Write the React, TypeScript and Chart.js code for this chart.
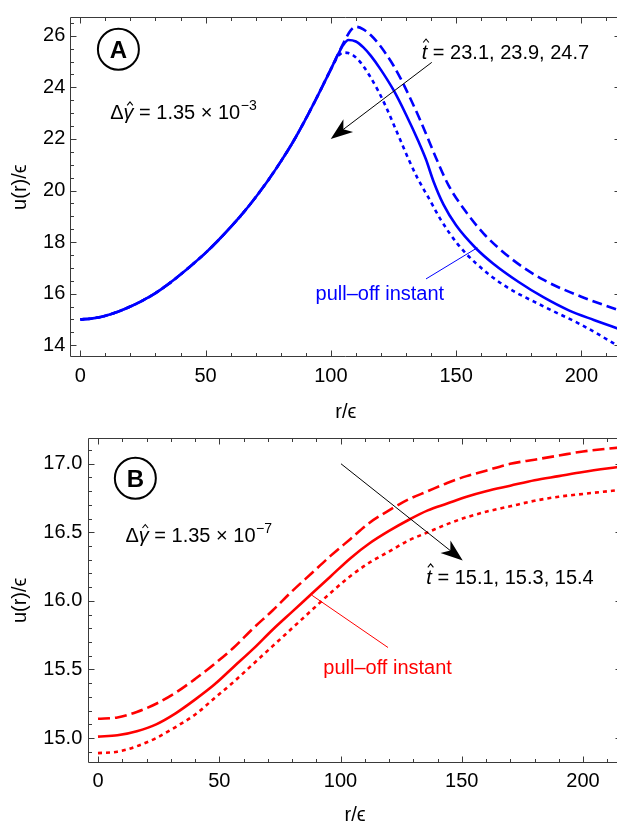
import React, { useEffect, useRef } from "react";
import { Chart, registerables } from "chart.js";

Chart.register(...registerables);

const FONT = '"Liberation Sans", Arial, Helvetica, sans-serif';
Chart.defaults.font.family = FONT;

// ================= Panel A  (Δγ̂ = 1.35 × 10^-3) =================
// rising branch shared by all three curves
const rA_rise = [0, 5, 10, 15, 20, 25, 30, 35, 40, 45, 50, 55, 60, 65, 70, 75, 80, 85, 90, 95, 100];
const uA_rise = [15.0, 15.04, 15.14, 15.3, 15.5, 15.74, 16.02, 16.36, 16.74, 17.15, 17.58, 18.06, 18.58, 19.13, 19.74, 20.4, 21.12, 21.9, 22.78, 23.72, 24.7];
// t̂ = 23.1 (dashed)
const rA_dashedTail = [103, 106, 108, 110, 113, 116, 119, 122, 125, 128, 131.5, 135, 138, 142.5, 147, 153.5, 161, 172, 185, 200, 216];
const uA_dashedTail = [25.32, 25.9, 26.22, 26.35, 26.25, 26.02, 25.7, 25.3, 24.85, 24.32, 23.62, 22.88, 22.2, 21.15, 20.2, 19.23, 18.33, 17.36, 16.53, 15.88, 15.32];
// t̂ = 23.9 (solid, pull-off instant)
const rA_solidTail = [103, 105, 107, 110, 113, 116, 120, 125, 130, 135, 138, 141, 145, 150, 158, 165, 175, 185, 195, 205, 216];
const uA_solidTail = [25.3, 25.65, 25.84, 25.78, 25.55, 25.22, 24.68, 23.9, 22.95, 21.9, 21.2, 20.35, 19.45, 18.65, 17.75, 17.15, 16.45, 15.85, 15.35, 14.98, 14.6];
// t̂ = 24.7 (dotted)
const rA_dottedTail = [103, 105, 107, 109.5, 112, 115.5, 119, 122, 125, 128, 131, 134.5, 139, 144, 150.5, 158, 169, 185, 200, 216];
const uA_dottedTail = [25.22, 25.35, 25.33, 25.2, 24.95, 24.45, 23.85, 23.25, 22.58, 21.9, 21.22, 20.5, 19.72, 18.85, 17.94, 17.17, 16.33, 15.5, 14.79, 13.9];

const xTicks = [0, 50, 100, 150, 200];
const yTicksA = [14, 16, 18, 20, 22, 24, 26];
const tValuesA = "23.1, 23.9, 24.7";
const expA = "\u22123";

// ================= Panel B  (Δγ̂ = 1.35 × 10^-7) =================
const rB = [0, 8, 16, 24, 32, 40, 48, 56, 64, 72, 80, 88, 96, 104, 112, 120, 128, 136, 144, 152, 160, 170, 180, 190, 200, 216];
// t̂ = 15.1 (dashed)
const uB_dashed = [15.14, 15.15, 15.19, 15.25, 15.33, 15.43, 15.54, 15.66, 15.8, 15.93, 16.07, 16.2, 16.33, 16.45, 16.57, 16.66, 16.74, 16.8, 16.86, 16.91, 16.95, 17.0, 17.03, 17.06, 17.09, 17.12];
// t̂ = 15.3 (solid, pull-off instant)
const uB_solid = [15.01, 15.02, 15.05, 15.1, 15.18, 15.28, 15.39, 15.52, 15.65, 15.79, 15.92, 16.05, 16.18, 16.31, 16.42, 16.51, 16.59, 16.66, 16.71, 16.76, 16.8, 16.84, 16.88, 16.91, 16.94, 16.98];
// t̂ = 15.4 (dotted)
const uB_dotted = [14.89, 14.9, 14.94, 15.0, 15.08, 15.17, 15.29, 15.41, 15.54, 15.67, 15.8, 15.93, 16.06, 16.18, 16.28, 16.36, 16.44, 16.5, 16.56, 16.61, 16.65, 16.69, 16.73, 16.76, 16.78, 16.81];

const yTicksB = [15.0, 15.5, 16.0, 16.5, 17.0];
const tValuesB = "15.1, 15.3, 15.4";
const expB = "\u22127";

const BLUE = "#0000ff";
const RED = "#ff0000";

function pts(rs: number[], us: number[]) {
  return rs.map((r, i) => ({ x: r, y: us[i] }));
}

function ds(data: any[], color: string, dash: number[]) {
  return {
    data,
    borderColor: color,
    backgroundColor: color,
    borderWidth: 2.6,
    borderDash: dash,
    borderCapStyle: "butt",
    pointRadius: 0,
    fill: false,
    cubicInterpolationMode: "monotone",
  };
}

function frameTicksPlugin(xMajor: number[], yMajor: number[], xMinor: number, yMinor: number) {
  return {
    id: "frameTicks",
    afterDraw(chart: any) {
      const { ctx, chartArea: a } = chart;
      const xs = chart.scales.x;
      const ys = chart.scales.y;
      ctx.save();
      ctx.strokeStyle = "#3a3a3a";
      ctx.lineWidth = 1;
      const L = Math.round(a.left) + 0.5;
      const T = Math.round(a.top) + 0.5;
      const B = Math.round(a.bottom) - 0.5;
      const R = Math.round(a.right) - 0.5;
      ctx.beginPath();
      ctx.moveTo(R, T);
      ctx.lineTo(L, T);
      ctx.lineTo(L, B);
      ctx.lineTo(R, B);
      ctx.lineTo(R, T);
      ctx.stroke();
      const isMajor = (v: number, arr: number[]) => arr.some((m) => Math.abs(m - v) < 1e-6);
      ctx.beginPath();
      for (let k = Math.ceil(xs.min / xMinor - 1e-9); k * xMinor <= xs.max + 1e-9; k++) {
        const v = k * xMinor;
        const px = Math.round(xs.getPixelForValue(v)) + 0.5;
        const len = isMajor(v, xMajor) ? 6 : 3.5;
        ctx.moveTo(px, B);
        ctx.lineTo(px, B - len);
        ctx.moveTo(px, T);
        ctx.lineTo(px, T + len);
      }
      for (let k = Math.ceil(ys.min / yMinor - 1e-9); k * yMinor <= ys.max + 1e-9; k++) {
        const v = k * yMinor;
        const py = Math.round(ys.getPixelForValue(v)) + 0.5;
        const len = isMajor(v, yMajor) ? 6 : 3.5;
        ctx.moveTo(L, py);
        ctx.lineTo(L + len, py);
        ctx.moveTo(R, py);
        ctx.lineTo(R - len, py);
      }
      ctx.stroke();
      ctx.restore();
    },
  };
}

function drawArrow(ctx: CanvasRenderingContext2D, x1: number, y1: number, x2: number, y2: number) {
  const dx = x2 - x1, dy = y2 - y1;
  const len = Math.hypot(dx, dy);
  const ux = dx / len, uy = dy / len;
  const nx = -uy, ny = ux;
  const Lh = 22, W = 8;
  const bx = x2 - ux * Lh, by = y2 - uy * Lh;
  ctx.strokeStyle = "#000";
  ctx.fillStyle = "#000";
  ctx.lineWidth = 1;
  ctx.beginPath();
  ctx.moveTo(x1, y1);
  ctx.lineTo(x2 - ux * Lh * 0.6, y2 - uy * Lh * 0.6);
  ctx.stroke();
  ctx.beginPath();
  ctx.moveTo(x2, y2);
  ctx.lineTo(bx + nx * W, by + ny * W);
  ctx.lineTo(x2 - ux * Lh * 0.72, y2 - uy * Lh * 0.72);
  ctx.lineTo(bx - nx * W, by - ny * W);
  ctx.closePath();
  ctx.fill();
}

function hatItalic(ctx: CanvasRenderingContext2D, ch: string, x: number, base: number, hatTop: number) {
  ctx.font = `italic 20px ${FONT}`;
  const w = ctx.measureText(ch).width;
  ctx.fillText(ch, x, base);
  const cx = x + w / 2 + 1.5;
  ctx.beginPath();
  ctx.lineWidth = 1.1;
  ctx.moveTo(cx - 2.8, base - hatTop + 3.5);
  ctx.lineTo(cx, base - hatTop);
  ctx.lineTo(cx + 2.8, base - hatTop + 3.5);
  ctx.stroke();
  return w;
}

function drawTLabel(ctx: CanvasRenderingContext2D, x: number, base: number, vals: string) {
  ctx.fillStyle = "#000";
  ctx.strokeStyle = "#000";
  let cx = x;
  cx += hatItalic(ctx, "t", cx, base, 20);
  ctx.font = `20px ${FONT}`;
  ctx.fillText(" = " + vals, cx, base);
}

function drawGammaLabel(ctx: CanvasRenderingContext2D, x: number, base: number, exp: string) {
  ctx.fillStyle = "#000";
  ctx.strokeStyle = "#000";
  let cx = x;
  ctx.font = `20px ${FONT}`;
  ctx.fillText("\u0394", cx, base);
  cx += ctx.measureText("\u0394").width;
  cx += hatItalic(ctx, "\u03b3", cx, base, 17);
  ctx.font = `20px ${FONT}`;
  const main = " = 1.35 \u00d7 10";
  ctx.fillText(main, cx, base);
  cx += ctx.measureText(main).width;
  ctx.font = `14px ${FONT}`;
  ctx.fillText(exp, cx + 0.5, base - 9);
}

function drawCircleLetter(ctx: CanvasRenderingContext2D, cx: number, cy: number, letter: string) {
  ctx.strokeStyle = "#000";
  ctx.lineWidth = 2;
  ctx.beginPath();
  ctx.arc(cx, cy, 20.5, 0, Math.PI * 2);
  ctx.stroke();
  ctx.fillStyle = "#000";
  ctx.font = `bold 24px ${FONT}`;
  ctx.textAlign = "center";
  ctx.fillText(letter, cx, cy + 8.5);
  ctx.textAlign = "left";
}

type Ann = {
  letter: string;
  circle: [number, number];
  arrowFrom: [number, number];
  arrowTo: [number, number];
  tLabel: [number, number];
  tValues: string;
  gLabel: [number, number];
  exp: string;
  pullLabel: [number, number];
  leaderFrom: [number, number];
  leaderTo: [number, number];
  color: string;
};

function annotationPlugin(ann: Ann) {
  return {
    id: "annotations",
    afterDraw(chart: any) {
      const { ctx } = chart;
      const X = (v: number) => chart.scales.x.getPixelForValue(v);
      const Y = (v: number) => chart.scales.y.getPixelForValue(v);
      ctx.save();
      ctx.textBaseline = "alphabetic";
      drawCircleLetter(ctx, X(ann.circle[0]), Y(ann.circle[1]), ann.letter);
      drawArrow(ctx, X(ann.arrowFrom[0]), Y(ann.arrowFrom[1]), X(ann.arrowTo[0]), Y(ann.arrowTo[1]));
      drawTLabel(ctx, X(ann.tLabel[0]), Y(ann.tLabel[1]), ann.tValues);
      drawGammaLabel(ctx, X(ann.gLabel[0]), Y(ann.gLabel[1]), ann.exp);
      ctx.strokeStyle = ann.color;
      ctx.lineWidth = 1;
      ctx.beginPath();
      ctx.moveTo(X(ann.leaderFrom[0]), Y(ann.leaderFrom[1]));
      ctx.lineTo(X(ann.leaderTo[0]), Y(ann.leaderTo[1]));
      ctx.stroke();
      ctx.fillStyle = ann.color;
      ctx.font = `20px ${FONT}`;
      ctx.fillText("pull\u2013off instant", X(ann.pullLabel[0]), Y(ann.pullLabel[1]));
      ctx.restore();
    },
  };
}

const tickFont = { family: FONT, size: 20 };

function buildConfig(opts: {
  datasets: any[];
  yMin: number;
  yMax: number;
  yTicks: number[];
  yFmt: (v: number) => string;
  yMinor: number;
  canvasH: number;
  areaTop: number;
  areaBottom: number;
  areaLeft: number;
  rightPad: number;
  yTickPad: number;
  xTitlePad: number;
  ann: Ann;
}) {
  return {
    type: "line",
    data: { datasets: opts.datasets },
    options: {
      animation: false,
      responsive: false,
      maintainAspectRatio: false,
      devicePixelRatio: 1,
      events: [],
      layout: { padding: { top: opts.areaTop, left: 0, right: opts.rightPad, bottom: 0 } },
      plugins: { legend: { display: false }, tooltip: { enabled: false } },
      elements: { point: { radius: 0 } },
      scales: {
        x: {
          type: "linear",
          min: -4,
          max: 216,
          afterBuildTicks: (s: any) => {
            s.ticks = xTicks.map((v) => ({ value: v }));
          },
          ticks: { font: tickFont, color: "#000", padding: 7, maxRotation: 0, autoSkip: false },
          grid: { display: false, drawTicks: false },
          border: { display: false },
          title: { display: true, text: "r/\u03f5", font: tickFont, color: "#000", padding: { top: 0, bottom: opts.xTitlePad } },
          afterFit: (s: any) => {
            s.height = opts.canvasH - opts.areaBottom;
          },
        },
        y: {
          type: "linear",
          min: opts.yMin,
          max: opts.yMax,
          afterBuildTicks: (s: any) => {
            s.ticks = opts.yTicks.map((v) => ({ value: v }));
          },
          ticks: { font: tickFont, color: "#000", padding: opts.yTickPad, callback: (v: any) => opts.yFmt(Number(v)), autoSkip: false },
          grid: { display: false, drawTicks: false },
          border: { display: false },
          title: { display: true, text: "u(r)/\u03f5", font: tickFont, color: "#000", padding: { top: 8, bottom: 0 } },
          afterFit: (s: any) => {
            s.width = opts.areaLeft;
          },
        },
      },
    },
    plugins: [frameTicksPlugin(xTicks, opts.yTicks, 10, opts.yMinor), annotationPlugin(opts.ann)],
  };
}

function configA() {
  return buildConfig({
    datasets: [
      ds(pts(rA_rise.concat(rA_dottedTail), uA_rise.concat(uA_dottedTail)), BLUE, [4, 4]),
      ds(pts(rA_rise.concat(rA_solidTail), uA_rise.concat(uA_solidTail)), BLUE, []),
      ds(pts(rA_rise.concat(rA_dashedTail), uA_rise.concat(uA_dashedTail)), BLUE, [10, 5]),
    ],
    yMin: 13.53,
    yMax: 26.73,
    yTicks: yTicksA,
    yFmt: (v) => String(v),
    yMinor: 0.5,
    canvasH: 430,
    areaTop: 14.3,
    areaBottom: 357.3,
    areaLeft: 70.3,
    rightPad: 18.6,
    yTickPad: 5,
    xTitlePad: 6,
    ann: {
      letter: "A",
      circle: [15.2, 25.48],
      arrowFrom: [140.3, 24.97],
      arrowTo: [99.96, 22.0],
      tLabel: [136.3, 25.1],
      tValues: tValuesA,
      gLabel: [11.9, 22.78],
      exp: expA,
      pullLabel: [93.9, 15.77],
      leaderFrom: [158.5, 17.78],
      leaderTo: [138, 16.57],
      color: BLUE,
    },
  });
}

function configB() {
  return buildConfig({
    datasets: [
      ds(pts(rB, uB_dotted), RED, [4, 4]),
      ds(pts(rB, uB_solid), RED, []),
      ds(pts(rB, uB_dashed), RED, [12, 5]),
    ],
    yMin: 14.82,
    yMax: 17.188,
    yTicks: yTicksB,
    yFmt: (v) => v.toFixed(1),
    yMinor: 0.1,
    canvasH: 410,
    areaTop: 11,
    areaBottom: 342.7,
    areaLeft: 88.3,
    rightPad: 18.2,
    yTickPad: 6,
    xTitlePad: 3,
    ann: {
      letter: "B",
      circle: [15.4, 16.895],
      arrowFrom: [100.2, 17.0],
      arrowTo: [150.4, 16.295],
      tLabel: [135.4, 16.124],
      tValues: tValuesB,
      gLabel: [11.3, 16.433],
      exp: expB,
      pullLabel: [92.9, 15.47],
      leaderFrom: [88.3, 16.04],
      leaderTo: [119.6, 15.66],
      color: RED,
    },
  });
}

function Panel({ build, top, height }: { build: () => any; top: number; height: number }) {
  const ref = useRef<HTMLCanvasElement | null>(null);
  useEffect(() => {
    const chart = new Chart(ref.current as HTMLCanvasElement, build());
    return () => chart.destroy();
  }, []);
  return (
    <canvas
      ref={ref}
      width={640}
      height={height}
      style={{ position: "absolute", left: 0, top, width: 640, height, display: "block" }}
    />
  );
}

export default function App() {
  return (
    <div
      style={{
        position: "absolute",
        left: 0,
        top: 0,
        width: 617,
        height: 826,
        overflow: "hidden",
        background: "#fff",
      }}
    >
      <Panel build={configA} top={0} height={430} />
      <Panel build={configB} top={420} height={410} />
    </div>
  );
}
